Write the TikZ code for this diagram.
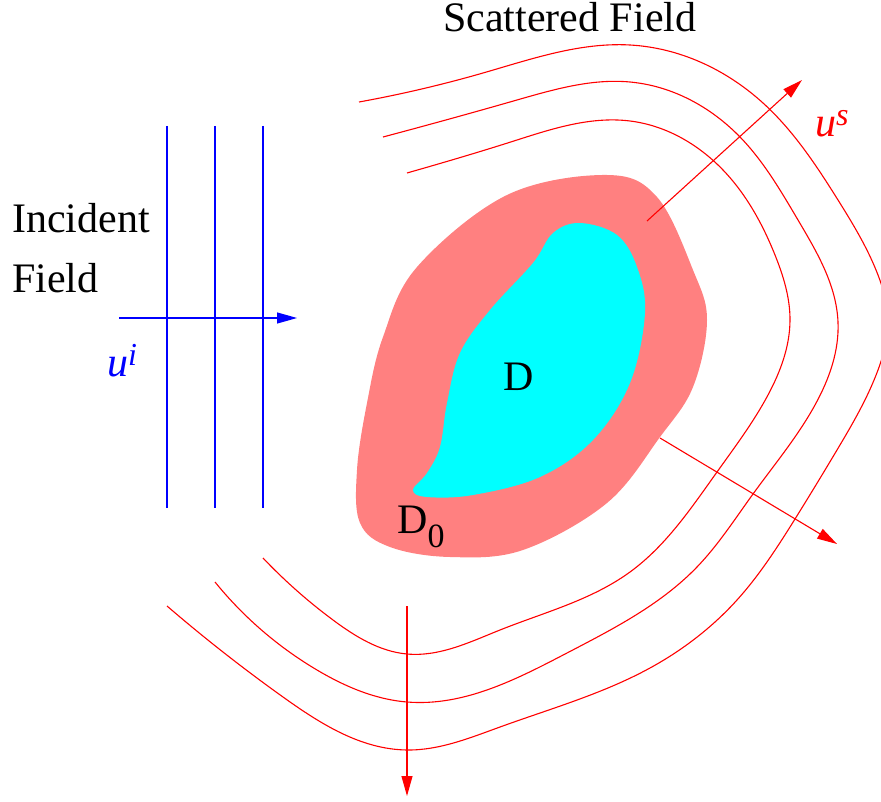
\documentclass[tikz,border=0pt]{standalone}
\usepackage{fontspec}
\setmainfont{Liberation Serif}
\usetikzlibrary{arrows.meta,hobby}
\definecolor{dpink}{HTML}{FF8080}
\definecolor{dcyan}{HTML}{00FFFF}
\begin{document}
\begin{tikzpicture}[x=1pt,y=-1pt, font=\fontsize{42}{50}\selectfont,
  wave/.style={red, line width=1.1pt, use Hobby shortcut},
  inc/.style={blue, line width=1.4pt},
  tipA/.style={-{Triangle[length=20pt,width=11pt]}},
  ray/.style={red, line width=1.1pt, tipA},
  lbl/.style={inner sep=0pt, anchor=base west}]
\useasboundingbox (0,0) rectangle (881,802);
\clip (0,0) rectangle (881,802);
% regions
\fill[dpink] plot[smooth cycle, tension=0.6] coordinates {(607,175) (657,197) (693,270) (707,320) (693,387) (660,437) (607,503) (523,550) (450,557) (390,547) (360,523) (357,470) (367,403) (383,337) (417,267) (507,195)};
\fill[dcyan] plot[smooth cycle, tension=0.6] coordinates {(580,223) (617,235) (637,267) (645,313) (630,383) (593,440) (540,477) (473,495) (427,497) (413,490) (427,473) (440,447) (447,403) (460,353) (490,310) (533,263) (553,233)};
% scattered wave fronts
\draw[wave] (407,173) .. (517,140) .. (630,121) .. (723,170) .. (775,255) .. (790,320) .. (768,395) .. (717,472) .. (630,572) .. (500,630) .. (407,654) .. (333,620) .. (263,558);
\draw[wave] (383,137) .. (517,100) .. (630,82) .. (740,137) .. (798,220) .. (838,322) .. (815,405) .. (753,494) .. (697,567) .. (567,653) .. (407,702) .. (317,670) .. (215,582);
\draw[wave] (359,102) .. (483,73) .. (630,45) .. (763,103) .. (838,200) .. (878,275) .. (888,320) .. (878,370) .. (837,450) .. (795,519) .. (737,600) .. (650,668) .. (500,727) .. (407,750) .. (283,697) .. (167,606);
% incident wave fronts
\coordinate (v1a) at (167,126); \coordinate (v1b) at (167,508);
\coordinate (v2a) at (215,126); \coordinate (v2b) at (215,508);
\coordinate (v3a) at (263,126); \coordinate (v3b) at (263,508);
\draw[inc] (v1a) -- (v1b);
\draw[inc] (v2a) -- (v2b);
\draw[inc] (v3a) -- (v3b);
\coordinate (inS) at (119,318); \coordinate (inE) at (297,318);
\draw[inc, line width=1.2pt, tipA] (inS) -- (inE);
% scattered rays
\coordinate (r1s) at (647,221); \coordinate (r1e) at (802,80);
\coordinate (r2s) at (660,438); \coordinate (r2e) at (837,544);
\coordinate (r3s) at (407,606); \coordinate (r3e) at (407,796);
\draw[ray] (r1s) -- (r1e);
\draw[ray] (r2s) -- (r2e);
\draw[ray] (r3s) -- (r3e);
% labels
\node[lbl] (scat) at (443,32) {Scattered Field};
\node[lbl] (inc1) at (12,233) {Incident};
\node[lbl] (inc2) at (12,293) {Field};
\node[lbl, text=blue] (ui) at (107,377) {\itshape u\raisebox{12pt}{\fontsize{32}{32}\selectfont i}};
\node[lbl, text=red] (us) at (815,137) {\itshape u\raisebox{11pt}{\fontsize{32}{32}\selectfont s}};
\node[lbl] (dlab) at (503,390) {D};
\node[lbl] (d0lab) at (397,533) {D\raisebox{-14pt}{\fontsize{34}{34}\selectfont 0}};
\end{tikzpicture}
\end{document}
